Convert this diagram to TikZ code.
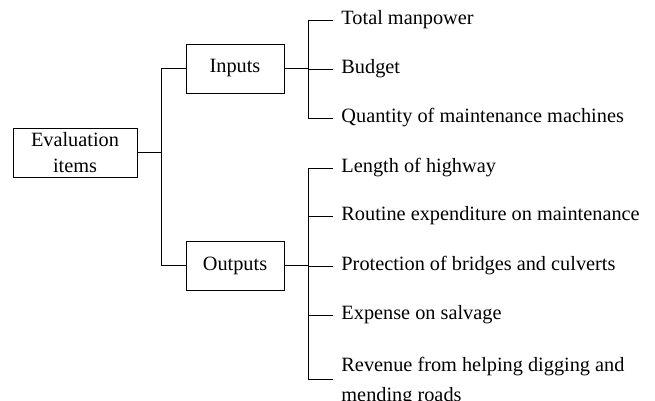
\documentclass[tikz,border=0pt]{standalone}
\usepackage{fontspec}
\setmainfont{Liberation Serif}
\begin{document}
\begin{tikzpicture}[x=1pt,y=-1pt,line width=0.9pt,
  box/.style={draw,rectangle,inner sep=0pt,align=center,font=\fontsize{20.3}{26}\selectfont},
  leaf/.style={anchor=west,inner xsep=8pt,inner ysep=0pt,align=left,font=\fontsize{20.3}{30}\selectfont}]
\useasboundingbox (0,0) rectangle (655,401);
\node[box,minimum width=124pt,minimum height=49pt] (eval) at (75,152.5) {Evaluation\\items};
\node[box,minimum width=98pt,minimum height=49pt] (inputs) at (235,68.5) {Inputs};
\node[box,minimum width=98pt,minimum height=49pt] (outputs) at (235,265.5) {Outputs};
\coordinate (tr) at (161,0);
\coordinate (ib) at (308,0);
\node[leaf] (a1) at (333,20) {Total manpower};
\node[leaf] (a2) at (333,69) {Budget};
\node[leaf] (a3) at (333,118) {Quantity of maintenance machines};
\node[leaf] (b1) at (333,168) {Length of highway};
\node[leaf] (b2) at (333,216) {Routine expenditure on maintenance};
\node[leaf] (b3) at (333,266) {Protection of bridges and culverts};
\node[leaf] (b4) at (333,315) {Expense on salvage};
\node[leaf] (b5) at (333,382) {Revenue from helping digging and\\mending roads};
\draw (eval.east) -- (eval.east -| tr);
\draw (inputs.west) -- (inputs.west -| tr) -- (outputs.west -| tr) -- (outputs.west);
\draw (inputs.east) -- (inputs.east -| ib);
\draw (a1.west) -- (a1.west -| ib) -- (a3.west -| ib) -- (a3.west);
\draw (a2.west -| ib) -- (a2.west);
\draw (outputs.east) -- (outputs.east -| ib);
\draw (b1.west) -- (b1.west -| ib) -- ([yshift=3pt]b5.west -| ib) -- ([yshift=3pt]b5.west);
\draw (b2.west -| ib) -- (b2.west);
\draw (b3.west -| ib) -- (b3.west);
\draw (b4.west -| ib) -- (b4.west);
\end{tikzpicture}
\end{document}
